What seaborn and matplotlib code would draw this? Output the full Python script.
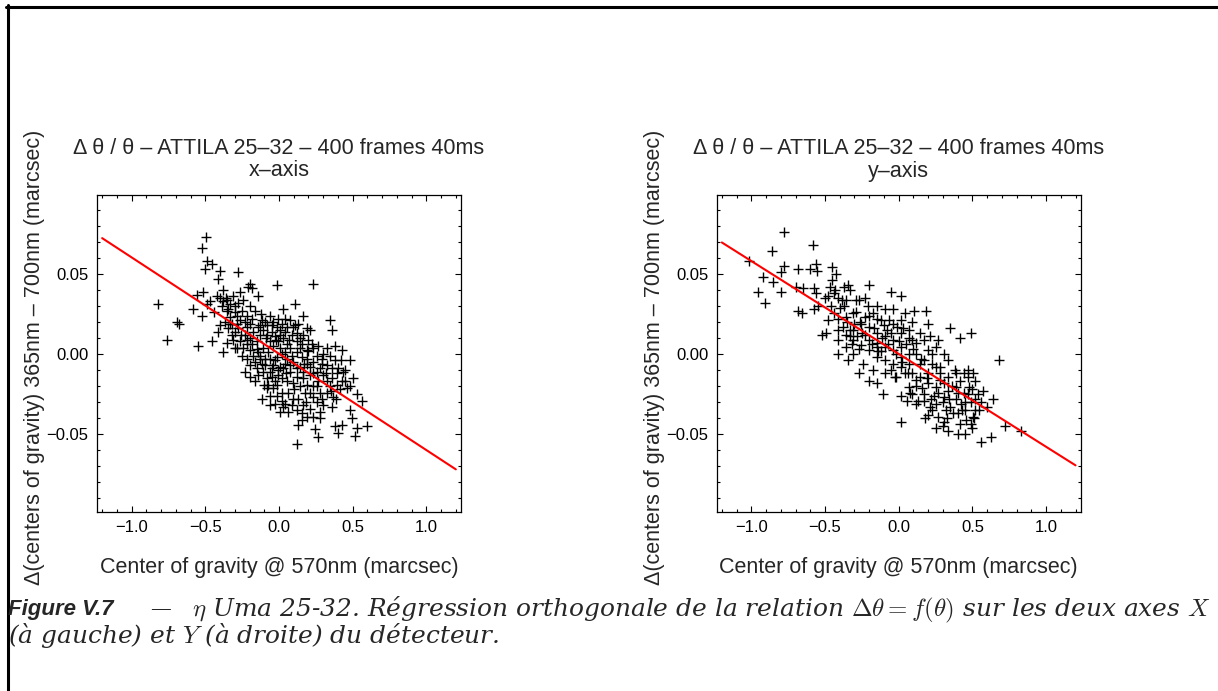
import numpy as np
import pandas as pd
import matplotlib
matplotlib.use('Agg')
import matplotlib.pyplot as plt
from matplotlib.lines import Line2D
from matplotlib.ticker import MultipleLocator
import seaborn as sns

# --- data (marcsec) ---
x_left = [
    -0.495, -0.520, -0.486, -0.456, -0.502, -0.400, -0.275, -0.411, -0.196, -0.208,
    -0.185, -0.015, 0.234, -0.513, -0.558, -0.818, -0.581, -0.524, -0.490, -0.400,
    -0.377, -0.355, -0.332, -0.298, -0.275, -0.242, -0.140, -0.196, -0.162, -0.287,
    -0.264, -0.332, -0.400, -0.411, -0.694, -0.676, -0.762, -0.547, -0.456, -0.377,
    -0.355, -0.321, -0.298, -0.275, -0.219, -0.196, -0.128, -0.094, -0.061, 0.030,
    0.109, 0.166, 0.347, 0.358, 0.211, 0.188, 0.132, 0.098, 0.075, 0.019,
    -0.015, -0.049, -0.083, -0.106, -0.128, -0.151, -0.185, -0.219, -0.242, -0.253,
    -0.219, -0.196, -0.230, -0.196, -0.151, -0.117, -0.094, -0.072, -0.038, -0.004,
    0.030, 0.053, 0.075, 0.120, 0.166, 0.154, 0.188, 0.234, 0.256, 0.301,
    0.347, 0.381, 0.426, 0.482, 0.381, 0.324, 0.279, 0.234, 0.188, 0.143,
    0.098, 0.053, 0.019, -0.015, -0.038, -0.061, -0.083, -0.072, -0.027, -0.004,
    0.030, 0.075, 0.120, 0.166, 0.211, 0.256, 0.301, 0.358, 0.392, 0.426,
    0.505, 0.460, 0.415, 0.528, 0.562, 0.369, 0.358, 0.301, 0.256, 0.211,
    0.177, 0.132, 0.087, 0.041, 0.019, -0.015, -0.038, -0.117, -0.027, 0.030,
    0.120, 0.154, 0.188, 0.234, 0.279, 0.482, 0.494, 0.426, 0.381, 0.403,
    0.528, 0.596, 0.516, 0.245, 0.268, 0.120, 0.132, 0.154, -0.174, -0.140,
    -0.117, -0.083, -0.038, -0.004, 0.007, 0.041, 0.053, 0.087, 0.120, 0.143,
    0.200, 0.222, 0.268, 0.290, 0.324, 0.358, 0.403, 0.437, 0.324, 0.268,
    0.234, 0.188, 0.143, 0.098, 0.053, 0.019, -0.015, -0.049, -0.106, -0.140,
    -0.162, -0.196, -0.174, -0.140, -0.106, -0.061, -0.027, 0.007, 0.041, 0.087,
    0.120, 0.154, 0.188, 0.211, 0.166, 0.120, 0.075, 0.041, 0.007, -0.027,
    -0.061, -0.094, -0.128, -0.162, -0.196, -0.230, -0.264, -0.287, -0.309, -0.343,
    -0.366, -0.321, -0.287, -0.253, -0.219, -0.355, -0.389, -0.423, -0.309, -0.264,
    -0.377, -0.343, 0.234, 0.279, 0.324, 0.064, 0.019, 0.098, 0.166, 0.211,
    0.064, 0.007, 0.347, 0.392, 0.290, 0.449, -0.083, -0.061,
    -0.30, -0.26, -0.23, -0.18, -0.15, -0.12, -0.09, -0.05, -0.02, 0.01,
    0.04, 0.07, 0.11, 0.14, 0.17, 0.20, 0.23, 0.26, 0.29, 0.32,
    0.35, 0.39, 0.42, 0.45, 0.48, 0.28, 0.18, 0.10, 0.05, -0.01,
    -0.05, -0.10, -0.13, -0.22, -0.33, -0.36, -0.44, -0.47, -0.30, -0.06,
]
y_left = [
    0.073, 0.066, 0.058, 0.056, 0.053, 0.052, 0.051, 0.047, 0.044, 0.042,
    0.041, 0.043, 0.044, 0.039, 0.037, 0.031, 0.028, 0.024, 0.031, 0.035,
    0.033, 0.034, 0.031, 0.030, 0.032, 0.034, 0.036, 0.030, 0.027, 0.024,
    0.021, 0.023, 0.018, 0.014, 0.020, 0.019, 0.009, 0.005, 0.008, 0.0015,
    0.007, 0.012, 0.014, 0.016, 0.017, 0.019, 0.018, 0.020, 0.024, 0.028,
    0.031, 0.024, 0.021, 0.015, 0.015, 0.016, 0.019, 0.017, 0.021, 0.019,
    0.017, 0.014, 0.012, 0.015, 0.012, 0.008, 0.006, 0.009, 0.004, -0.001,
    -0.003, -0.007, -0.011, -0.014, -0.009, -0.006, -0.003, 0.0015, 0.005, 0.008,
    0.010, 0.006, 0.004, 0.008, 0.012, 0.006, 0.0025, 0.004, -0.001, 0.000,
    -0.001, 0.005, 0.0025, -0.004, -0.004, -0.007, -0.009, -0.005, -0.006, -0.008,
    -0.005, -0.003, 0.000, -0.002, -0.007, -0.011, -0.015, -0.019, -0.017, -0.013,
    -0.009, -0.011, -0.014, -0.015, -0.013, -0.011, -0.013, -0.015, -0.012, -0.017,
    -0.015, -0.021, -0.022, -0.025, -0.029, -0.027, -0.033, -0.032, -0.030, -0.024,
    -0.024, -0.028, -0.032, -0.031, -0.029, -0.026, -0.021, -0.028, -0.031, -0.033,
    -0.035, -0.037, -0.039, -0.039, -0.036, -0.035, -0.040, -0.044, -0.045, -0.049,
    -0.046, -0.045, -0.051, -0.047, -0.052, -0.056, -0.044, -0.041, 0.014, 0.017,
    0.021, 0.018, 0.020, 0.022, 0.015, 0.014, 0.017, 0.012, 0.013, 0.010,
    0.009, 0.006, 0.005, -0.003, 0.004, -0.009, -0.009, -0.011, -0.017, -0.017,
    -0.020, -0.019, -0.020, -0.018, -0.017, -0.015, -0.019, -0.014, -0.011, -0.013,
    -0.017, 0.0025, -0.001, 0.0015, 0.004, 0.008, 0.011, 0.004, 0.0015, -0.001,
    0.0015, -0.002, -0.003, -0.008, -0.011, -0.009, -0.007, -0.006, -0.008, -0.004,
    -0.003, -0.007, -0.003, -0.005, 0.010, 0.012, 0.008, 0.004, 0.009, 0.016,
    0.020, 0.019, 0.019, 0.027, 0.024, 0.027, 0.030, 0.036, 0.036, 0.039,
    0.040, 0.028, -0.027, -0.024, -0.024, -0.024, -0.024, -0.028, -0.032, -0.034,
    -0.036, -0.036, -0.020, -0.019, -0.028, -0.017, -0.021, -0.026,
    0.026, 0.012, 0.020, 0.022, 0.003, 0.025, 0.010, 0.018, 0.009, 0.012,
    0.022, 0.009, 0.018, 0.004, -0.006, 0.002, -0.012, -0.020, -0.006, -0.012,
    -0.023, -0.028, -0.004, -0.010, -0.020, -0.040, -0.030, -0.022, -0.012, -0.010,
    -0.009, -0.019, -0.001, 0.006, 0.019, 0.035, 0.026, 0.033, 0.004, -0.032,
]

x_right = [
    -0.781, -0.579, -0.861, -1.019, -0.779, -0.800, -0.680, -0.600, -0.560, -0.552,
    -0.920, -0.853, -0.800, -0.952, -0.907, -0.699, -0.648, -0.573, -0.560, -0.453,
    -0.427, -0.467, -0.440, -0.480, -0.413, -0.387, -0.347, -0.333, -0.360, -0.373,
    -0.200, -0.053, 0.013, -0.680, -0.653, -0.573, -0.480, -0.520, -0.413, -0.333,
    -0.307, -0.267, -0.227, -0.147, -0.093, -0.040, 0.040, 0.107, 0.187, 0.013,
    0.093, 0.200, 0.347, 0.493, 0.413, 0.267, 0.213, -0.413, -0.347, -0.267,
    -0.200, -0.147, -0.107, 0.013, 0.053, 0.133, 0.227, 0.013, 0.253, 0.333,
    0.400, 0.453, 0.560, 0.627, 0.720, 0.827, 0.640, 0.680, 0.573, 0.547,
    0.493, 0.413, 0.307, 0.200, 0.120, 0.173, 0.253, 0.333, 0.387, 0.440,
    0.467, 0.520, 0.520, 0.453, 0.507, 0.400, 0.320, 0.253, 0.200, 0.120,
    0.093, 0.013, -0.040, -0.093, -0.147, -0.200, -0.253, -0.307, -0.360, -0.413,
    -0.307, -0.253, -0.200, -0.147, -0.093, -0.040, 0.013, 0.067, 0.120, 0.173,
    0.227, 0.280, 0.333, 0.387, 0.280, 0.307, 0.387, 0.467, 0.173, 0.093,
    0.067, -0.040, -0.093, -0.147, 0.013, 0.067, 0.120, 0.200, 0.253, 0.307,
    0.227, 0.147, 0.040, -0.027, -0.093, -0.173, -0.240, -0.307, -0.360, -0.280,
    -0.227, -0.173, -0.120, -0.067, -0.013, 0.067, 0.147, -0.360, -0.440, -0.493,
    -0.293, -0.200, -0.147, 0.147, 0.200, 0.333, 0.413, 0.480, 0.507, 0.013,
    -0.053, 0.067, 0.267, 0.30, 0.35, 0.42, 0.46, 0.50, 0.36, 0.24,
    0.44, 0.50, 0.52, 0.28, 0.38, 0.45, 0.33, 0.16, 0.22, -0.43,
    -0.40, -0.35, -0.30, -0.25, -0.20, -0.15, -0.10, -0.05, -0.27, -0.32,
    -0.12, -0.08, -0.18, -0.38, -0.46, 0.05, 0.10, 0.03, -0.02, 0.17,
    -0.50, -0.45, -0.41, -0.37, -0.33, -0.29, -0.26, -0.23, -0.21, -0.17,
    -0.14, -0.11, -0.07, -0.04, 0.00, 0.02, 0.06, 0.09, 0.12, 0.15,
    0.19, 0.21, 0.25, 0.27, 0.31, 0.34, 0.37, 0.40, 0.43, 0.47,
    0.49, 0.51, 0.54, 0.56, 0.60, 0.30, 0.18, 0.08, -0.02, -0.55,
]
y_right = [
    0.076, 0.068, 0.064, 0.058, 0.055, 0.051, 0.053, 0.053, 0.056, 0.052,
    0.048, 0.045, 0.039, 0.0385, 0.032, 0.042, 0.041, 0.041, 0.038, 0.054,
    0.050, 0.042, 0.038, 0.036, 0.035, 0.034, 0.043, 0.040, 0.034, 0.042,
    0.043, 0.039, 0.036, 0.027, 0.0255, 0.028, 0.021, 0.012, 0.015, 0.015,
    0.0255, 0.034, 0.035, 0.030, 0.028, 0.028, 0.0255, 0.027, 0.027, 0.021,
    0.020, 0.019, 0.016, 0.013, 0.010, 0.009, 0.011, 0.000, -0.004, -0.012,
    -0.017, -0.018, -0.025, -0.026, -0.029, -0.029, -0.035, -0.0425, -0.046, -0.048,
    -0.050, -0.050, -0.055, -0.052, -0.045, -0.048, -0.028, -0.004, -0.023, -0.035,
    -0.0435, -0.0435, -0.0425, -0.038, -0.031, -0.025, -0.0205, -0.023, -0.0205, -0.012,
    -0.010, -0.017, -0.028, -0.035, -0.039, -0.037, -0.035, -0.031, -0.018, -0.016,
    -0.012, -0.008, -0.006, -0.004, -0.002, 0.0025, 0.0056, 0.009, 0.012, 0.009,
    0.015, 0.019, 0.017, 0.013, 0.011, 0.009, 0.0046, 0.000, 0.000, -0.004,
    -0.006, -0.008, -0.004, -0.012, -0.016, -0.027, -0.028, -0.025, -0.029, -0.025,
    -0.0205, 0.0025, 0.0046, 0.0067, 0.013, 0.010, 0.0067, 0.0025, 0.0046, 0.000,
    0.000, -0.006, -0.012, -0.014, -0.012, -0.010, -0.006, 0.000, 0.0046, 0.011,
    0.023, 0.0255, 0.021, 0.021, 0.017, 0.015, 0.013, 0.023, 0.0255, 0.013,
    0.034, 0.009, 0.0046, -0.014, -0.012, -0.014, -0.017, -0.0205, -0.012, -0.0017,
    -0.010, -0.006, -0.039, -0.030, -0.033, -0.031, -0.041, -0.046, -0.020, -0.026,
    -0.024, -0.022, -0.035, -0.012, -0.010, -0.030, -0.040, -0.021, -0.028, 0.040,
    0.029, 0.020, 0.019, 0.013, 0.024, 0.022, 0.018, 0.013, 0.003, 0.006,
    0.002, 0.015, 0.006, 0.017, 0.030, 0.006, 0.003, 0.016, 0.000, 0.009,
    0.035, 0.046, 0.022, 0.030, 0.011, 0.026, 0.020, 0.012, 0.030, 0.016,
    0.002, 0.010, 0.006, 0.019, 0.008, -0.005, -0.012, 0.009, -0.020, -0.003,
    -0.015, -0.033, -0.008, -0.024, -0.018, -0.028, -0.037, -0.024, -0.035, -0.014,
    -0.030, -0.040, -0.025, -0.030, -0.033, -0.045, -0.040, -0.024, -0.014, 0.030,
]

# orthogonal regression lines
fit_x = [-1.2, 1.2]
fit_left = [0.0723, -0.0719]
fit_right = [0.0696, -0.0694]

x_ticks = [-1.0, -0.5, 0.0, 0.5, 1.0]
y_ticks = [-0.05, 0.0, 0.05]

title_main = 'Δ θ / θ – ATTILA 25–32 – 400 frames 40ms'
subtitles = ['x–axis', 'y–axis']
x_label = 'Center of gravity @ 570nm (marcsec)'
y_label = 'Δ(centers of gravity) 365nm – 700nm (marcsec)'

# --- style ---
sns.set_theme(style='white')
plt.rcParams['font.family'] = ['Liberation Sans', 'DejaVu Sans']
plt.rcParams['mathtext.fontset'] = 'cm'

W, H = 1218, 691
fig = plt.figure(figsize=(W / 100, H / 100), dpi=100)
fig.patch.set_facecolor('white')

panels = [
    (x_left, y_left, fit_left, subtitles[0], 97),
    (x_right, y_right, fit_right, subtitles[1], 716.7),
]

for xs, ys, fy, sub, left_px in panels:
    ax = fig.add_axes([left_px / W, (H - 512) / H, 364 / W, 317 / H])
    pts = pd.DataFrame({'cog': xs, 'delta': ys})
    sns.scatterplot(data=pts, x='cog', y='delta', marker='+', color='black',
                    s=60, linewidth=1.0, ax=ax)
    fit = pd.DataFrame({'cog': fit_x, 'delta': fy})
    sns.lineplot(data=fit, x='cog', y='delta', color='red', linewidth=1.5, ax=ax)

    ax.set_xlim(-1.235, 1.235)
    ax.set_ylim(-0.0985, 0.0992)
    ax.set_xticks(x_ticks)
    ax.set_yticks(y_ticks)
    ax.xaxis.set_minor_locator(MultipleLocator(0.1))
    ax.yaxis.set_minor_locator(MultipleLocator(0.01))
    ax.tick_params(which='both', direction='in', top=True, right=True,
                   bottom=True, left=True, colors='black', width=0.8)
    ax.tick_params(which='major', length=4.5, labelsize=12, pad=6)
    ax.tick_params(which='minor', length=2)
    ax.set_xlabel('')
    ax.set_ylabel('')
    for sp in ax.spines.values():
        sp.set_visible(True)
        sp.set_color('black')
        sp.set_linewidth(0.9)

    cx = (left_px + 182) / W
    fig.text(cx, 1 - 148 / H, title_main, ha='center', va='center', fontsize=15.5)
    fig.text(cx, 1 - 171 / H, sub, ha='center', va='center', fontsize=15.5)
    fig.text(cx, 1 - 568 / H, x_label, ha='center', va='center', fontsize=15.5)
    # y label sits just clear of the tick labels
    fig.text((left_px - 62) / W, 1 - 357 / H, y_label, ha='center', va='center',
             rotation=90, fontsize=15.5)

# page frame (top and left rules)
fig.add_artist(Line2D([6 / W, 1.0], [1 - 6.5 / H, 1 - 6.5 / H], transform=fig.transFigure,
                      color='black', linewidth=2.2))
fig.add_artist(Line2D([7.5 / W, 7.5 / W], [1 - 5 / H, 0.0], transform=fig.transFigure,
                      color='black', linewidth=2.2))

# caption
cap_y1 = 1 - 610 / H
cap_y2 = 1 - 636 / H
fig.text(8 / W, cap_y1, 'Figure V.7', fontsize=16, fontweight='bold', fontstyle='italic',
         va='center', ha='left')
fig.text(150 / W, cap_y1, '—', fontsize=15, family='DejaVu Serif', va='center', ha='left')
fig.text(192 / W, cap_y1,
         r'$\eta$ Uma 25-32. Régression orthogonale de la relation $\Delta\theta = f(\theta)$ sur les deux axes $X$',
         fontsize=17.9, family='DejaVu Serif', fontstyle='italic', va='center', ha='left')
fig.text(8 / W, cap_y2, r'(à gauche) et $Y$ (à droite) du détecteur.',
         fontsize=17.9, family='DejaVu Serif', fontstyle='italic', va='center', ha='left')

fig.savefig('out.png', dpi=100, facecolor='white')
